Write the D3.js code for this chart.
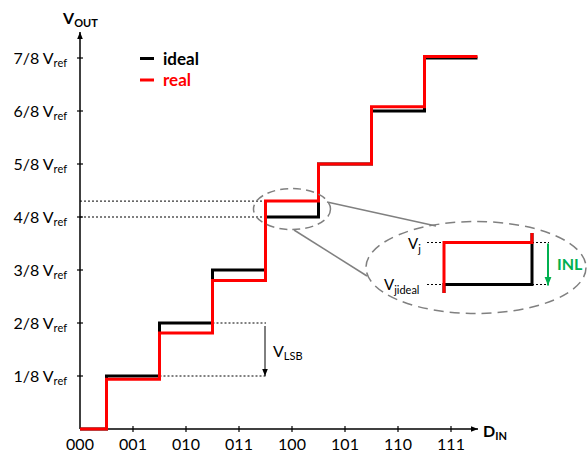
<!DOCTYPE html>
<html>
<head>
<meta charset="utf-8">
<script src="https://cdn.jsdelivr.net/npm/d3@7"></script>
<style>
  html, body { margin: 0; padding: 0; background: #fff; }
  svg { display: block; font-family: Lato, "Open Sans", sans-serif; }
</style>
</head>
<body>
<svg id="chart" width="587" height="455"></svg>
<script>
// Input codes and output levels (in units of Vref/8)
const codes = ["000", "001", "010", "011", "100", "101", "110", "111"];
const levelLabels = ["1/8", "2/8", "3/8", "4/8", "5/8", "6/8", "7/8"];
const levelValues = [1, 2, 3, 4, 5, 6, 7];
const ideal = [0, 1, 2, 3, 4, 5, 6, 7];
const real = [0, 0.94, 1.81, 2.8, 4.3, 5, 6.08, 7.03];
const zoomCode = 4;

const RED = "#ff0000", GREEN = "#00b050", GRAY = "#808080";
const svg = d3.select("#chart");

const x = d3.scaleLinear().domain([0, 7]).range([80, 451]);
const y = d3.scaleLinear().domain([0, 8]).range([429, 5]);

// arrowhead markers
const defs = svg.append("defs");
function marker(id, color, size) {
  defs.append("marker").attr("id", id)
    .attr("viewBox", "0 0 10 10").attr("refX", 10).attr("refY", 5)
    .attr("markerWidth", size).attr("markerHeight", size)
    .attr("markerUnits", "userSpaceOnUse").attr("orient", "auto")
    .append("path").attr("d", "M0,1 L10,5 L0,9 Z").attr("fill", color);
}
marker("arrK", "#000", 7);
marker("arrG", GREEN, 9);

// staircase points: each code holds its level from mid-step to mid-step
function stairs(vals) {
  const pts = [[0, vals[0]]];
  for (let i = 1; i < vals.length; i++) pts.push([i - 0.5, vals[i]]);
  pts.push([vals.length - 0.5, vals[vals.length - 1]]);
  return pts;
}
function stepLine(sx, sy) {
  return d3.line().x(d => sx(d[0])).y(d => sy(d[1])).curve(d3.curveStepAfter);
}

// axes
svg.append("line").attr("x1", x(0)).attr("y1", y(0)).attr("x2", x(0)).attr("y2", 32)
  .attr("stroke", "#000").attr("stroke-width", 1.5).attr("marker-end", "url(#arrK)");
svg.append("line").attr("x1", x(0)).attr("y1", y(0)).attr("x2", 478).attr("y2", y(0))
  .attr("stroke", "#000").attr("stroke-width", 1.5).attr("marker-end", "url(#arrK)");

svg.append("g").selectAll("line").data(levelValues).join("line")
  .attr("x1", x(0) - 3).attr("x2", x(0) + 3)
  .attr("y1", d => y(d)).attr("y2", d => y(d))
  .attr("stroke", "#000").attr("stroke-width", 1.2);
svg.append("g").selectAll("line").data(codes.slice(1)).join("line")
  .attr("x1", (d, i) => x(i + 1)).attr("x2", (d, i) => x(i + 1))
  .attr("y1", y(0) - 3).attr("y2", y(0) + 3)
  .attr("stroke", "#000").attr("stroke-width", 1.2);

// y tick labels
const yl = svg.append("g").selectAll("text").data(levelLabels).join("text")
  .attr("x", 67).attr("y", (d, i) => y(levelValues[i]) + 6)
  .attr("text-anchor", "end").attr("font-size", 16).attr("fill", "#000");
yl.append("tspan").text(d => d + " V");
yl.append("tspan").attr("font-size", 11).attr("dy", 3).text("ref");

// x tick labels
svg.append("g").selectAll("text").data(codes).join("text")
  .attr("x", (d, i) => x(i)).attr("y", 450)
  .attr("text-anchor", "middle").attr("font-size", 16).attr("fill", "#000")
  .text(d => d);

// axis titles
const vt = svg.append("text").attr("x", 63).attr("y", 24).attr("font-weight", "bold").attr("font-size", 16);
vt.append("tspan").text("V");
vt.append("tspan").attr("font-size", 11).attr("dy", 3).text("OUT");
const dt = svg.append("text").attr("x", 483).attr("y", 437).attr("font-weight", "bold").attr("font-size", 16);
dt.append("tspan").text("D");
dt.append("tspan").attr("font-size", 11).attr("dy", 3).text("IN");

// dotted reference lines at the zoomed step
const dotted = "2,2";
[ideal[zoomCode], real[zoomCode]].forEach(v => {
  svg.append("line").attr("x1", x(0)).attr("x2", x(zoomCode - 0.5))
    .attr("y1", y(v)).attr("y2", y(v))
    .attr("stroke", "#000").attr("stroke-width", 1).attr("stroke-dasharray", dotted);
});

// LSB annotation
const lsbX = 266;
svg.append("line").attr("x1", x(2.5)).attr("x2", lsbX).attr("y1", y(2)).attr("y2", y(2))
  .attr("stroke", "#000").attr("stroke-width", 1).attr("stroke-dasharray", dotted);
svg.append("line").attr("x1", x(1.5)).attr("x2", lsbX).attr("y1", y(1)).attr("y2", y(1))
  .attr("stroke", "#000").attr("stroke-width", 1).attr("stroke-dasharray", dotted);
svg.append("line").attr("x1", 265).attr("x2", 265).attr("y1", y(2) + 3).attr("y2", y(1))
  .attr("stroke", "#000").attr("stroke-width", 1).attr("marker-end", "url(#arrK)");
const lsb = svg.append("text").attr("x", 273).attr("y", 357).attr("font-size", 16);
lsb.append("tspan").text("V");
lsb.append("tspan").attr("font-size", 11).attr("dy", 3).text("LSB");

// transfer curves
svg.append("path").attr("d", stepLine(x, y)(stairs(ideal)))
  .attr("fill", "none").attr("stroke", "#000").attr("stroke-width", 3);
svg.append("path").attr("d", stepLine(x, y)(stairs(real)))
  .attr("fill", "none").attr("stroke", RED).attr("stroke-width", 3);

// legend
const legend = [["ideal", "#000"], ["real", RED]];
legend.forEach(([name, c], i) => {
  const ly = 58.5 + i * 21.5;
  svg.append("line").attr("x1", 140).attr("x2", 154).attr("y1", ly).attr("y2", ly)
    .attr("stroke", c).attr("stroke-width", 3);
  svg.append("text").attr("x", 163).attr("y", ly + 6).attr("font-size", 17)
    .attr("font-weight", "bold").attr("fill", c).text(name);
});

// zoom callout
const cx = x(zoomCode), cy = y((ideal[zoomCode] + real[zoomCode]) / 2);
svg.append("ellipse").attr("cx", cx).attr("cy", cy).attr("rx", 38.5).attr("ry", 20.5)
  .attr("fill", "none").attr("stroke", GRAY).attr("stroke-width", 1.5).attr("stroke-dasharray", "8,5");
svg.append("line").attr("x1", 327).attr("y1", 202).attr("x2", 436).attr("y2", 226)
  .attr("stroke", GRAY).attr("stroke-width", 1.5);
svg.append("line").attr("x1", 294).attr("y1", 230).attr("x2", 367).attr("y2", 276)
  .attr("stroke", GRAY).attr("stroke-width", 1.5);
svg.append("ellipse").attr("cx", 476).attr("cy", 267.5).attr("rx", 110).attr("ry", 46)
  .attr("fill", "none").attr("stroke", GRAY).attr("stroke-width", 1.5).attr("stroke-dasharray", "10,6");

// magnified view of the step
const xIn = d3.scaleLinear().domain([zoomCode - 0.5, zoomCode + 0.5]).range([444, 532]);
const yIn = d3.scaleLinear().domain([ideal[zoomCode], real[zoomCode]]).range([284.5, 242.5]);
defs.append("clipPath").attr("id", "inClip").append("rect")
  .attr("x", 366).attr("y", 233).attr("width", 220).attr("height", 60);

[ideal[zoomCode], real[zoomCode]].forEach(v => {
  [[427, 444], [532, 549]].forEach(([a, b]) => {
    svg.append("line").attr("x1", a).attr("x2", b).attr("y1", yIn(v)).attr("y2", yIn(v))
      .attr("stroke", "#000").attr("stroke-width", 1).attr("stroke-dasharray", dotted);
  });
});

const inset = svg.append("g").attr("clip-path", "url(#inClip)");
inset.append("path").attr("d", stepLine(xIn, yIn)(stairs(ideal)))
  .attr("fill", "none").attr("stroke", "#000").attr("stroke-width", 3);
inset.append("path").attr("d", stepLine(xIn, yIn)(stairs(real)))
  .attr("fill", "none").attr("stroke", RED).attr("stroke-width", 3);

svg.append("line").attr("x1", 548).attr("x2", 548)
  .attr("y1", yIn(real[zoomCode]) + 1).attr("y2", yIn(ideal[zoomCode]) + 1)
  .attr("stroke", GREEN).attr("stroke-width", 2).attr("marker-end", "url(#arrG)");
svg.append("text").attr("x", 557).attr("y", 270).attr("font-size", 16)
  .attr("font-weight", "bold").attr("fill", GREEN).text("INL");

const vj = svg.append("text").attr("x", 408).attr("y", yIn(real[zoomCode]) + 6).attr("font-size", 15);
vj.append("tspan").text("V");
vj.append("tspan").attr("font-size", 11).attr("dy", 4).text("j");
const vji = svg.append("text").attr("x", 384).attr("y", yIn(ideal[zoomCode]) + 5.5).attr("font-size", 15);
vji.append("tspan").text("V");
vji.append("tspan").attr("font-size", 11).attr("dy", 4).text("jideal");
</script>
</body>
</html>
